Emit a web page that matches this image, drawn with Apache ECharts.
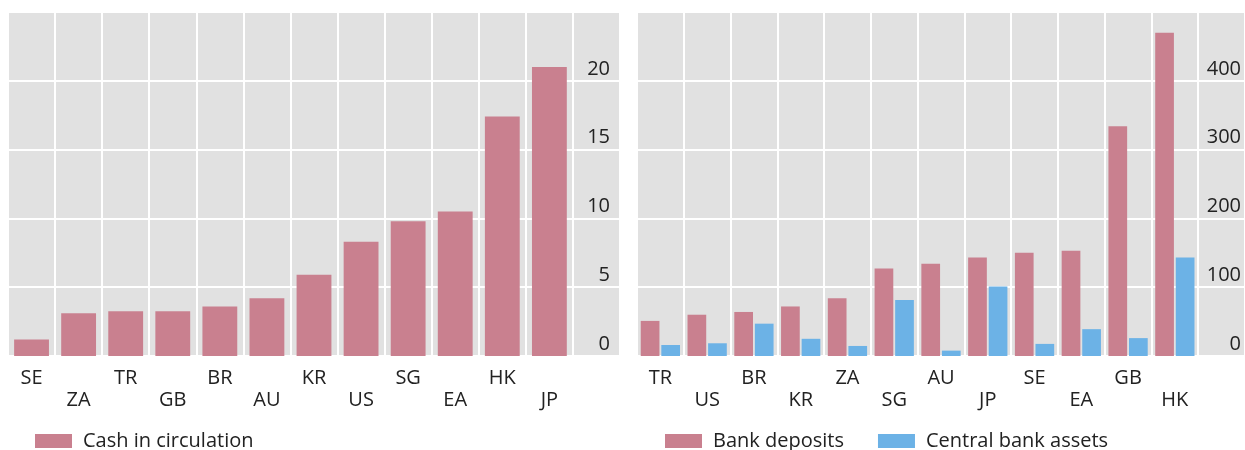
<!DOCTYPE html>
<html>
<head>
<meta charset="utf-8">
<script src="https://cdn.jsdelivr.net/npm/echarts@6/dist/echarts.min.js"></script>
<style>
  html, body { margin: 0; padding: 0; background: #fff; }
  #chart { width: 1245px; height: 450px; }
</style>
</head>
<body>
<div id="chart"></div>
<script>
// left panel: cash in circulation
var cashCats = ['SE', 'ZA', 'TR', 'GB', 'BR', 'AU', 'KR', 'US', 'SG', 'EA', 'HK', 'JP'];
var cashValues = [1.2, 3.1, 3.25, 3.25, 3.6, 4.2, 5.9, 8.3, 9.8, 10.5, 17.4, 21.0];
var cashTicks = [0, 5, 10, 15, 20];

// right panel: bank deposits vs central bank assets
var bankCats = ['TR', 'US', 'BR', 'KR', 'ZA', 'SG', 'AU', 'JP', 'SE', 'EA', 'GB', 'HK'];
var depositValues = [51, 60, 64, 72, 84, 127, 134, 143, 150, 153, 334, 470];
var cbAssetValues = [16, 18.5, 47, 25, 14.6, 81.5, 7.8, 101, 17.6, 39, 26, 143];
var bankTicks = [0, 100, 200, 300, 400];

var pink = '#c9808f';
var blue = '#6cb2e6';
var grey = '#e1e1e1';
var font = 'Open Sans';
var fsize = 20;

var chart = echarts.init(document.getElementById('chart'));

// an empty band at the end gives room for the value labels inside the grey area
function catAxis(cats, gridIndex) {
  return {
    type: 'category',
    gridIndex: gridIndex,
    data: cats.concat(['']),
    axisLine: { show: false },
    axisTick: { show: false },
    splitLine: { show: true, interval: 0, lineStyle: { color: '#fff', width: 2 } },
    axisLabel: {
      interval: 0,
      margin: 11,
      color: '#222',
      fontFamily: font,
      fontSize: fsize,
      lineHeight: 22,
      formatter: function (v, i) {
        return i % 2 === 0 ? v : '\n' + v;
      }
    }
  };
}

function valAxis(ticks, gridIndex, step, margin) {
  var top = ticks[ticks.length - 1] + step;
  return {
    type: 'value',
    gridIndex: gridIndex,
    position: 'right',
    min: 0,
    max: top,
    interval: step,
    axisLine: { show: false },
    axisTick: { show: false },
    splitLine: { show: true, lineStyle: { color: '#fff', width: 2 } },
    axisLabel: {
      inside: true,
      margin: margin,
      color: '#222',
      fontFamily: font,
      fontSize: fsize,
      lineHeight: 24,
      verticalAlign: 'bottom',
      formatter: function (v) {
        return ticks.indexOf(v) >= 0 ? String(v) : '';
      }
    }
  };
}

function legendAt(left, names) {
  return {
    left: left, top: 426,
    icon: 'rect',
    itemWidth: 37, itemHeight: 14, itemGap: 34,
    textStyle: { fontSize: fsize, color: '#222', fontFamily: font, padding: [0, 0, 0, 6] },
    data: names
  };
}

var option = {
  animation: false,
  backgroundColor: '#fff',
  textStyle: { fontFamily: font },
  grid: [
    { left: 8, top: 12, width: 612, height: 344, show: true, backgroundColor: grey, borderWidth: 0 },
    { left: 637, top: 12, width: 608, height: 344, show: true, backgroundColor: grey, borderWidth: 0 }
  ],
  xAxis: [catAxis(cashCats, 0), catAxis(bankCats, 1)],
  yAxis: [valAxis(cashTicks, 0, 5, 10), valAxis(bankTicks, 1, 100, 4)],
  legend: [
    legendAt(30, ['Cash in circulation']),
    legendAt(660, ['Bank deposits', 'Central bank assets'])
  ],
  series: [
    {
      name: 'Cash in circulation',
      type: 'bar',
      xAxisIndex: 0,
      yAxisIndex: 0,
      barCategoryGap: '26%',
      itemStyle: { color: pink },
      data: cashValues
    },
    {
      name: 'Bank deposits',
      type: 'bar',
      xAxisIndex: 1,
      yAxisIndex: 1,
      barCategoryGap: '16%',
      barGap: '10%',
      itemStyle: { color: pink },
      data: depositValues
    },
    {
      name: 'Central bank assets',
      type: 'bar',
      xAxisIndex: 1,
      yAxisIndex: 1,
      barCategoryGap: '16%',
      barGap: '10%',
      itemStyle: { color: blue },
      data: cbAssetValues
    }
  ]
};

chart.setOption(option);
</script>
</body>
</html>
